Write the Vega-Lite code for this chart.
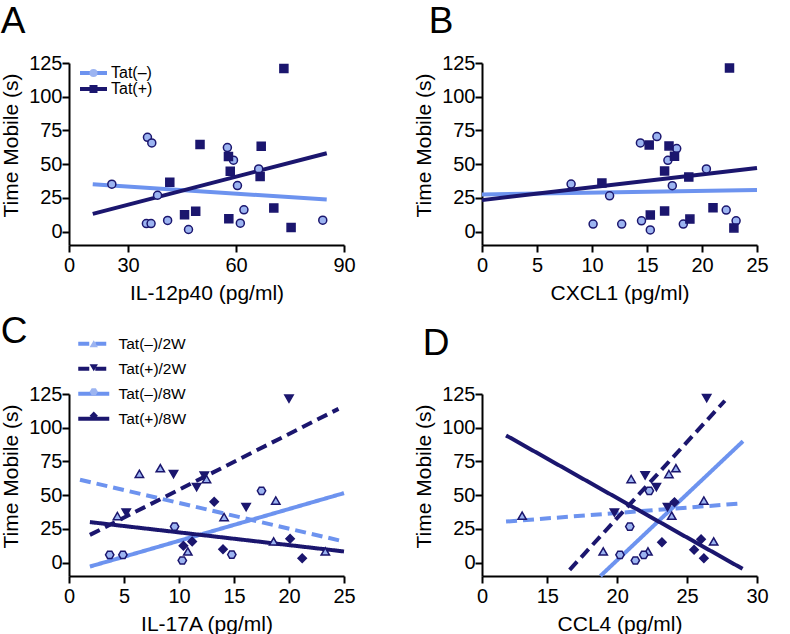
{
  "$schema": "https://vega.github.io/schema/vega-lite/v6.json",
  "background": "white",
  "padding": {"left": 0, "top": 3, "right": 5, "bottom": 2},
  "columns": 2,
  "spacing": {"row": 10, "column": 57},
  "resolve": {
    "scale": {"stroke": "independent", "fill": "independent", "shape": "independent", "strokeDash": "independent"},
    "legend": {"stroke": "independent", "fill": "independent", "shape": "independent", "strokeDash": "independent"}
  },
  "config": {
    "font": "Liberation Sans",
    "view": {"stroke": null},
    "axis": {"domainColor": "black", "domainWidth": 2, "tickColor": "black", "tickWidth": 2, "tickSize": 7, "grid": false, "labelFontSize": 20, "titleFontSize": 21, "titleFontWeight": "normal", "labelColor": "black", "titleColor": "black", "labelFont": "Liberation Sans", "titleFont": "Liberation Sans", "labelFlush": false, "labelOverlap": false},
    "axisY": {"labelPadding": 0, "titlePadding": 7},
    "axisX": {"labelPadding": 3, "titlePadding": 7},
    "legend": {"labelFont": "Liberation Sans", "labelColor": "black"},
    "title": {"font": "Liberation Sans", "fontSize": 37, "fontWeight": "normal", "anchor": "start", "frame": "bounds", "color": "black"}
  },
  "datasets": {
    "A_pts": [
      {"x": 25.5, "y": 35.1, "grp": "Tat(–)"}, {"x": 35.4, "y": 69.9, "grp": "Tat(–)"}, {"x": 36.6, "y": 65.7, "grp": "Tat(–)"},
      {"x": 35.1, "y": 5.9, "grp": "Tat(–)"}, {"x": 36.4, "y": 5.9, "grp": "Tat(–)"}, {"x": 38.2, "y": 26.9, "grp": "Tat(–)"},
      {"x": 41.0, "y": 8.2, "grp": "Tat(–)"}, {"x": 46.8, "y": 1.5, "grp": "Tat(–)"}, {"x": 57.6, "y": 62.3, "grp": "Tat(–)"},
      {"x": 59.3, "y": 52.9, "grp": "Tat(–)"}, {"x": 60.4, "y": 34.1, "grp": "Tat(–)"}, {"x": 62.2, "y": 16.1, "grp": "Tat(–)"},
      {"x": 61.2, "y": 6.2, "grp": "Tat(–)"}, {"x": 66.3, "y": 46.4, "grp": "Tat(–)"}, {"x": 84.1, "y": 8.4, "grp": "Tat(–)"},
      {"x": 73.3, "y": 121.0, "grp": "Tat(+)"}, {"x": 50.0, "y": 64.5, "grp": "Tat(+)"}, {"x": 57.9, "y": 55.6, "grp": "Tat(+)"},
      {"x": 58.4, "y": 44.7, "grp": "Tat(+)"}, {"x": 67.0, "y": 63.2, "grp": "Tat(+)"}, {"x": 66.7, "y": 40.8, "grp": "Tat(+)"},
      {"x": 41.6, "y": 36.6, "grp": "Tat(+)"}, {"x": 45.7, "y": 12.4, "grp": "Tat(+)"}, {"x": 48.8, "y": 15.1, "grp": "Tat(+)"},
      {"x": 58.0, "y": 9.4, "grp": "Tat(+)"}, {"x": 70.5, "y": 17.5, "grp": "Tat(+)"}, {"x": 75.3, "y": 3.0, "grp": "Tat(+)"}
    ],
    "A_lines": [
      {"x": 20.2, "y": 35.1, "ser": "Tat(–)"}, {"x": 85.2, "y": 23.7, "ser": "Tat(–)"},
      {"x": 20.2, "y": 13.1, "ser": "Tat(+)"}, {"x": 85.2, "y": 58.1, "ser": "Tat(+)"}
    ],
    "B_pts": [
      {"x": 8.1, "y": 35.2, "grp": "Tat(–)"}, {"x": 10.1, "y": 5.5, "grp": "Tat(–)"}, {"x": 11.6, "y": 26.5, "grp": "Tat(–)"},
      {"x": 12.7, "y": 5.5, "grp": "Tat(–)"}, {"x": 14.4, "y": 65.7, "grp": "Tat(–)"}, {"x": 14.5, "y": 7.9, "grp": "Tat(–)"},
      {"x": 15.3, "y": 1.2, "grp": "Tat(–)"}, {"x": 15.9, "y": 70.4, "grp": "Tat(–)"}, {"x": 16.9, "y": 52.8, "grp": "Tat(–)"},
      {"x": 17.3, "y": 34.0, "grp": "Tat(–)"}, {"x": 17.7, "y": 61.5, "grp": "Tat(–)"}, {"x": 18.3, "y": 5.5, "grp": "Tat(–)"},
      {"x": 20.4, "y": 46.4, "grp": "Tat(–)"}, {"x": 22.2, "y": 15.9, "grp": "Tat(–)"}, {"x": 23.1, "y": 7.9, "grp": "Tat(–)"},
      {"x": 22.5, "y": 121.3, "grp": "Tat(+)"}, {"x": 15.2, "y": 64.2, "grp": "Tat(+)"}, {"x": 17.0, "y": 63.5, "grp": "Tat(+)"},
      {"x": 17.5, "y": 55.8, "grp": "Tat(+)"}, {"x": 16.6, "y": 44.9, "grp": "Tat(+)"}, {"x": 18.8, "y": 40.4, "grp": "Tat(+)"},
      {"x": 10.9, "y": 36.0, "grp": "Tat(+)"}, {"x": 15.3, "y": 12.2, "grp": "Tat(+)"}, {"x": 16.6, "y": 15.2, "grp": "Tat(+)"},
      {"x": 21.0, "y": 17.6, "grp": "Tat(+)"}, {"x": 18.9, "y": 9.2, "grp": "Tat(+)"}, {"x": 22.9, "y": 2.7, "grp": "Tat(+)"}
    ],
    "B_lines": [
      {"x": 0, "y": 27.5, "ser": "Tat(–)"}, {"x": 25, "y": 30.8, "ser": "Tat(–)"},
      {"x": 0, "y": 23.3, "ser": "Tat(+)"}, {"x": 25, "y": 47.1, "ser": "Tat(+)"}
    ],
    "C_pts": [
      {"x": 4.4, "y": 34.5, "grp": "Tat(–)/2W"}, {"x": 6.4, "y": 65.8, "grp": "Tat(–)/2W"}, {"x": 8.3, "y": 70.0, "grp": "Tat(–)/2W"},
      {"x": 12.5, "y": 61.9, "grp": "Tat(–)/2W"}, {"x": 14.1, "y": 33.7, "grp": "Tat(–)/2W"}, {"x": 10.8, "y": 8.2, "grp": "Tat(–)/2W"},
      {"x": 18.8, "y": 46.0, "grp": "Tat(–)/2W"}, {"x": 18.6, "y": 15.6, "grp": "Tat(–)/2W"}, {"x": 23.3, "y": 8.2, "grp": "Tat(–)/2W"},
      {"x": 20.0, "y": 121.5, "grp": "Tat(+)/2W"}, {"x": 9.5, "y": 65.6, "grp": "Tat(+)/2W"}, {"x": 12.3, "y": 64.4, "grp": "Tat(+)/2W"},
      {"x": 11.6, "y": 56.0, "grp": "Tat(+)/2W"}, {"x": 5.2, "y": 37.1, "grp": "Tat(+)/2W"}, {"x": 16.1, "y": 41.1, "grp": "Tat(+)/2W"},
      {"x": 3.7, "y": 5.7, "grp": "Tat(–)/8W"}, {"x": 4.9, "y": 5.7, "grp": "Tat(–)/8W"}, {"x": 9.6, "y": 26.7, "grp": "Tat(–)/8W"},
      {"x": 10.3, "y": 1.5, "grp": "Tat(–)/8W"}, {"x": 14.8, "y": 5.9, "grp": "Tat(–)/8W"}, {"x": 17.5, "y": 53.2, "grp": "Tat(–)/8W"},
      {"x": 13.2, "y": 45.0, "grp": "Tat(+)/8W"}, {"x": 10.4, "y": 12.4, "grp": "Tat(+)/8W"}, {"x": 11.2, "y": 15.6, "grp": "Tat(+)/8W"},
      {"x": 14.0, "y": 9.9, "grp": "Tat(+)/8W"}, {"x": 20.1, "y": 17.6, "grp": "Tat(+)/8W"}, {"x": 21.2, "y": 3.2, "grp": "Tat(+)/8W"}
    ],
    "C_lines": [
      {"x": 1.0, "y": 61.4, "ser": "Tat(–)/2W"}, {"x": 25, "y": 15.6, "ser": "Tat(–)/2W"},
      {"x": 1.9, "y": 20.5, "ser": "Tat(+)/2W"}, {"x": 24.5, "y": 114.0, "ser": "Tat(+)/2W"},
      {"x": 1.9, "y": -3.0, "ser": "Tat(–)/8W"}, {"x": 25, "y": 51.5, "ser": "Tat(–)/8W"},
      {"x": 1.9, "y": 30.0, "ser": "Tat(+)/8W"}, {"x": 25, "y": 8.2, "ser": "Tat(+)/8W"}
    ],
    "D_pts": [
      {"x": 13.2, "y": 34.7, "grp": "Tat(–)/2W"}, {"x": 19.0, "y": 8.2, "grp": "Tat(–)/2W"}, {"x": 21.0, "y": 61.9, "grp": "Tat(–)/2W"},
      {"x": 22.2, "y": 8.2, "grp": "Tat(–)/2W"}, {"x": 23.7, "y": 65.6, "grp": "Tat(–)/2W"}, {"x": 24.2, "y": 70.0, "grp": "Tat(–)/2W"},
      {"x": 23.9, "y": 34.7, "grp": "Tat(–)/2W"}, {"x": 26.2, "y": 46.0, "grp": "Tat(–)/2W"}, {"x": 26.9, "y": 15.6, "grp": "Tat(–)/2W"},
      {"x": 26.4, "y": 122.0, "grp": "Tat(+)/2W"}, {"x": 19.8, "y": 37.1, "grp": "Tat(+)/2W"}, {"x": 22.0, "y": 64.6, "grp": "Tat(+)/2W"},
      {"x": 22.8, "y": 56.0, "grp": "Tat(+)/2W"}, {"x": 23.6, "y": 41.1, "grp": "Tat(+)/2W"},
      {"x": 20.2, "y": 5.7, "grp": "Tat(–)/8W"}, {"x": 21.3, "y": 1.5, "grp": "Tat(–)/8W"}, {"x": 21.9, "y": 5.7, "grp": "Tat(–)/8W"},
      {"x": 20.9, "y": 26.7, "grp": "Tat(–)/8W"}, {"x": 22.3, "y": 53.2, "grp": "Tat(–)/8W"},
      {"x": 24.1, "y": 44.8, "grp": "Tat(+)/8W"}, {"x": 23.2, "y": 15.1, "grp": "Tat(+)/8W"}, {"x": 25.5, "y": 9.4, "grp": "Tat(+)/8W"},
      {"x": 26.0, "y": 17.3, "grp": "Tat(+)/8W"}, {"x": 26.2, "y": 3.2, "grp": "Tat(+)/8W"}
    ],
    "D_lines": [
      {"x": 12.05, "y": 30.4, "ser": "Tat(–)/2W"}, {"x": 28.6, "y": 43.6, "ser": "Tat(–)/2W"},
      {"x": 16.6, "y": -5.4, "ser": "Tat(+)/2W"}, {"x": 27.7, "y": 120.0, "ser": "Tat(+)/2W"},
      {"x": 18.8, "y": -10.0, "ser": "Tat(–)/8W"}, {"x": 29.0, "y": 90.0, "ser": "Tat(–)/8W"},
      {"x": 12.05, "y": 94.3, "ser": "Tat(+)/8W"}, {"x": 28.97, "y": -4.7, "ser": "Tat(+)/8W"}
    ]
  },
  "concat": [
    {
      "width": 275, "height": 182,
      "title": {"text": "A", "offset": 12},
      "layer": [
        {"mark": {"type": "rule", "strokeDash": [4, 3], "color": "black", "strokeWidth": 1.2}, "encoding": {"y": {"datum": 0, "type": "quantitative", "axis": {"title": "Time Mobile (s)", "values": [0, 25, 50, 75, 100, 125], "labelOverlap": false, "titleY": 82}}}},
        {
          "data": {"name": "A_lines"},
          "mark": {"type": "line", "strokeWidth": 4},
          "encoding": {
            "x": {"field": "x", "type": "quantitative", "scale": {"domain": [13.6, 90], "nice": false, "zero": false}, "axis": {"title": "IL-12p40 (pg/ml)", "values": [13.6, 30, 60, 90], "labelExpr": "datum.value < 20 ? '0' : datum.label", "labelOverlap": false}},
            "y": {"field": "y", "type": "quantitative", "scale": {"domain": [-10, 125.02], "nice": false}, "axis": {"title": "Time Mobile (s)", "values": [0, 25, 50, 75, 100, 125], "labelOverlap": false, "titleY": 82}},
            "stroke": {"field": "ser", "type": "nominal", "scale": {"range": ["#1b166e", "#6d93ef"]},
              "legend": {"title": null, "orient": "none", "legendX": 16.5, "legendY": 2, "values": ["Tat(–)", "Tat(+)"], "symbolType": "M-2.7,0H2.7", "symbolSize": 100, "symbolStrokeWidth": 4, "labelFontSize": 16, "labelOffset": 9.5, "rowPadding": 0, "zindex": 1}}
          }
        },
        {
          "data": {"name": "A_pts"},
          "mark": {"type": "point", "filled": true, "size": 64, "stroke": "#1b166e", "strokeWidth": 1.5, "opacity": 1},
          "encoding": {
            "x": {"field": "x", "type": "quantitative", "axis": {"title": "IL-12p40 (pg/ml)", "values": [13.6, 30, 60, 90], "labelExpr": "datum.value < 20 ? '0' : datum.label", "labelOverlap": false}},
            "y": {"field": "y", "type": "quantitative", "axis": {"title": "Time Mobile (s)", "values": [0, 25, 50, 75, 100, 125], "labelOverlap": false, "titleY": 82}},
            "shape": {"field": "grp", "type": "nominal", "scale": {"range": ["square", "circle"]},
              "legend": {"title": null, "orient": "none", "legendX": 16.5, "legendY": 2, "values": ["Tat(–)", "Tat(+)"], "symbolSize": 64, "symbolStrokeWidth": 1.5, "symbolStrokeColor": "#1b166e", "labelFontSize": 16, "labelExpr": "''", "rowPadding": 0, "zindex": 2}},
            "fill": {"field": "grp", "type": "nominal", "scale": {"range": ["#1b166e", "#9cb4f1"]},
              "legend": {"title": null, "orient": "none", "legendX": 16.5, "legendY": 2, "values": ["Tat(–)", "Tat(+)"], "symbolSize": 64, "symbolStrokeWidth": 1.5, "symbolStrokeColor": "#1b166e", "labelFontSize": 16, "labelExpr": "''", "rowPadding": 0, "zindex": 2}}
          }
        },
        {"mark": {"type": "point", "shape": "M-0.45,-0.4H0.45V0.4H-0.45Z", "size": 49, "filled": true, "color": "white", "opacity": 1}, "encoding": {
          "x": {"datum": 18.2, "type": "quantitative", "axis": {"title": "IL-12p40 (pg/ml)", "values": [13.6, 30, 60, 90], "labelExpr": "datum.value < 20 ? '0' : datum.label", "labelOverlap": false}},
          "y": {"datum": -10, "type": "quantitative", "axis": {"title": "Time Mobile (s)", "values": [0, 25, 50, 75, 100, 125], "labelOverlap": false, "titleY": 82}}}},
        {"mark": {"type": "point", "shape": "M-1.8,0.7L-0.6,-0.7M0.6,0.7L1.8,-0.7", "size": 16, "filled": false, "stroke": "black", "strokeWidth": 1.5, "opacity": 1}, "encoding": {
          "x": {"datum": 18.2, "type": "quantitative", "axis": {"title": "IL-12p40 (pg/ml)", "values": [13.6, 30, 60, 90], "labelExpr": "datum.value < 20 ? '0' : datum.label", "labelOverlap": false}},
          "y": {"datum": -10, "type": "quantitative", "axis": {"title": "Time Mobile (s)", "values": [0, 25, 50, 75, 100, 125], "labelOverlap": false, "titleY": 82}}}}
      ]
    },
    {
      "width": 275, "height": 182,
      "title": {"text": "B", "offset": 12, "dx": 15},
      "layer": [
        {"mark": {"type": "rule", "strokeDash": [4, 3], "color": "black", "strokeWidth": 1.2}, "encoding": {"y": {"datum": 0, "type": "quantitative", "axis": {"title": "Time Mobile (s)", "values": [0, 25, 50, 75, 100, 125], "labelOverlap": false, "titleY": 82}}}},
        {
          "data": {"name": "B_lines"},
          "mark": {"type": "line", "strokeWidth": 4},
          "encoding": {
            "x": {"field": "x", "type": "quantitative", "scale": {"domain": [0, 25], "nice": false}, "axis": {"title": "CXCL1 (pg/ml)", "values": [0, 5, 10, 15, 20, 25]}},
            "y": {"field": "y", "type": "quantitative", "scale": {"domain": [-10, 125.02], "nice": false}, "axis": {"title": "Time Mobile (s)", "values": [0, 25, 50, 75, 100, 125], "labelOverlap": false, "titleY": 82}},
            "stroke": {"field": "ser", "type": "nominal", "scale": {"range": ["#1b166e", "#6d93ef"]}, "legend": null}
          }
        },
        {
          "data": {"name": "B_pts"},
          "mark": {"type": "point", "filled": true, "size": 64, "stroke": "#1b166e", "strokeWidth": 1.5, "opacity": 1},
          "encoding": {
            "x": {"field": "x", "type": "quantitative"},
            "y": {"field": "y", "type": "quantitative", "axis": {"title": "Time Mobile (s)", "values": [0, 25, 50, 75, 100, 125], "labelOverlap": false, "titleY": 82}},
            "shape": {"field": "grp", "type": "nominal", "scale": {"range": ["square", "circle"]}, "legend": null},
            "fill": {"field": "grp", "type": "nominal", "scale": {"range": ["#1b166e", "#9cb4f1"]}, "legend": null}
          }
        }
      ]
    },
    {
      "width": 275, "height": 182,
      "title": {"text": "C", "offset": -15},
      "layer": [
        {"mark": {"type": "rule", "strokeDash": [4, 3], "color": "black", "strokeWidth": 1.2}, "encoding": {"y": {"datum": 0, "type": "quantitative", "axis": {"title": "Time Mobile (s)", "values": [0, 25, 50, 75, 100, 125], "labelOverlap": false, "titleY": 82}}}},
        {
          "data": {"name": "C_lines"},
          "mark": {"type": "line", "strokeWidth": 4},
          "encoding": {
            "x": {"field": "x", "type": "quantitative", "scale": {"domain": [0, 25], "nice": false}, "axis": {"title": "IL-17A (pg/ml)", "values": [0, 5, 10, 15, 20, 25]}},
            "y": {"field": "y", "type": "quantitative", "scale": {"domain": [-10, 125.02], "nice": false}, "axis": {"title": "Time Mobile (s)", "values": [0, 25, 50, 75, 100, 125], "labelOverlap": false, "titleY": 82}},
            "stroke": {"field": "ser", "type": "nominal", "scale": {"range": ["#1b166e", "#1b166e", "#6d93ef", "#6d93ef"]},
              "legend": {"title": null, "orient": "none", "legendX": 17, "legendY": -58, "values": ["Tat(–)/2W", "Tat(+)/2W", "Tat(–)/8W", "Tat(+)/8W"], "symbolType": "M-3.1,0H3.1", "symbolSize": 100, "symbolStrokeWidth": 4, "labelFontSize": 15.5, "labelOffset": 17, "rowPadding": 7, "zindex": 1}},
            "strokeDash": {"field": "ser", "type": "nominal", "scale": {"range": [[11, 6], [1, 0], [11, 6], [1, 0]]},
              "legend": {"title": null, "orient": "none", "legendX": 17, "legendY": -58, "values": ["Tat(–)/2W", "Tat(+)/2W", "Tat(–)/8W", "Tat(+)/8W"], "symbolType": "M-3.1,0H3.1", "symbolSize": 100, "symbolStrokeWidth": 4, "labelFontSize": 15.5, "labelOffset": 17, "rowPadding": 7, "zindex": 1}}
          }
        },
        {
          "data": {"name": "C_pts"},
          "mark": {"type": "point", "filled": true, "size": 70, "stroke": "#1b166e", "strokeWidth": 1.5, "opacity": 1},
          "encoding": {
            "x": {"field": "x", "type": "quantitative"},
            "y": {"field": "y", "type": "quantitative", "axis": {"title": "Time Mobile (s)", "values": [0, 25, 50, 75, 100, 125], "labelOverlap": false, "titleY": 82}},
            "shape": {"field": "grp", "type": "nominal", "scale": {"range": ["triangle-down", "diamond", "triangle-up", "M-1,0L-0.5,-0.866L0.5,-0.866L1,0L0.5,0.866L-0.5,0.866Z"]},
              "legend": {"title": null, "orient": "none", "legendX": 17, "legendY": -58, "values": ["Tat(–)/2W", "Tat(+)/2W", "Tat(–)/8W", "Tat(+)/8W"], "symbolSize": 70, "symbolStrokeWidth": 1.5, "symbolStrokeColor": "#1b166e", "labelFontSize": 15.5, "labelExpr": "''", "rowPadding": 7, "zindex": 2}},
            "fill": {"field": "grp", "type": "nominal", "scale": {"range": ["#1b166e", "#1b166e", "#9cb4f1", "#9cb4f1"]},
              "legend": {"title": null, "orient": "none", "legendX": 17, "legendY": -58, "values": ["Tat(–)/2W", "Tat(+)/2W", "Tat(–)/8W", "Tat(+)/8W"], "symbolSize": 70, "symbolStrokeWidth": 1.5, "symbolStrokeColor": "#1b166e", "labelFontSize": 15.5, "labelExpr": "''", "rowPadding": 7, "zindex": 2}}
          }
        }
      ]
    },
    {
      "width": 275, "height": 182,
      "title": {"text": "D", "offset": 21, "dx": 9},
      "layer": [
        {"mark": {"type": "rule", "strokeDash": [4, 3], "color": "black", "strokeWidth": 1.2}, "encoding": {"y": {"datum": 0, "type": "quantitative", "axis": {"title": "Time Mobile (s)", "values": [0, 25, 50, 75, 100, 125], "labelOverlap": false, "titleY": 82}}}},
        {
          "data": {"name": "D_lines"},
          "mark": {"type": "line", "strokeWidth": 4},
          "encoding": {
            "x": {"field": "x", "type": "quantitative", "scale": {"domain": [10.33, 30], "nice": false, "zero": false}, "axis": {"title": "CCL4 (pg/ml)", "values": [10.33, 15, 20, 25, 30], "labelExpr": "datum.value < 12 ? '0' : datum.label", "labelOverlap": false}},
            "y": {"field": "y", "type": "quantitative", "scale": {"domain": [-10, 125.02], "nice": false}, "axis": {"title": "Time Mobile (s)", "values": [0, 25, 50, 75, 100, 125], "labelOverlap": false, "titleY": 82}},
            "stroke": {"field": "ser", "type": "nominal", "scale": {"range": ["#1b166e", "#1b166e", "#6d93ef", "#6d93ef"]}, "legend": null},
            "strokeDash": {"field": "ser", "type": "nominal", "scale": {"range": [[11, 6], [1, 0], [11, 6], [1, 0]]}, "legend": null}
          }
        },
        {
          "data": {"name": "D_pts"},
          "mark": {"type": "point", "filled": true, "size": 70, "stroke": "#1b166e", "strokeWidth": 1.5, "opacity": 1},
          "encoding": {
            "x": {"field": "x", "type": "quantitative", "axis": {"title": "CCL4 (pg/ml)", "values": [10.33, 15, 20, 25, 30], "labelExpr": "datum.value < 12 ? '0' : datum.label", "labelOverlap": false}},
            "y": {"field": "y", "type": "quantitative", "axis": {"title": "Time Mobile (s)", "values": [0, 25, 50, 75, 100, 125], "labelOverlap": false, "titleY": 82}},
            "shape": {"field": "grp", "type": "nominal", "scale": {"range": ["triangle-down", "diamond", "triangle-up", "M-1,0L-0.5,-0.866L0.5,-0.866L1,0L0.5,0.866L-0.5,0.866Z"]}, "legend": null},
            "fill": {"field": "grp", "type": "nominal", "scale": {"range": ["#1b166e", "#1b166e", "#9cb4f1", "#9cb4f1"]}, "legend": null}
          }
        },
        {"mark": {"type": "point", "shape": "M-0.45,-0.4H0.45V0.4H-0.45Z", "size": 49, "filled": true, "color": "white", "opacity": 1}, "encoding": {
          "x": {"datum": 11.67, "type": "quantitative", "axis": {"title": "CCL4 (pg/ml)", "values": [10.33, 15, 20, 25, 30], "labelExpr": "datum.value < 12 ? '0' : datum.label", "labelOverlap": false}},
          "y": {"datum": -10, "type": "quantitative", "axis": {"title": "Time Mobile (s)", "values": [0, 25, 50, 75, 100, 125], "labelOverlap": false, "titleY": 82}}}},
        {"mark": {"type": "point", "shape": "M-1.8,0.7L-0.6,-0.7M0.6,0.7L1.8,-0.7", "size": 16, "filled": false, "stroke": "black", "strokeWidth": 1.5, "opacity": 1}, "encoding": {
          "x": {"datum": 11.67, "type": "quantitative", "axis": {"title": "CCL4 (pg/ml)", "values": [10.33, 15, 20, 25, 30], "labelExpr": "datum.value < 12 ? '0' : datum.label", "labelOverlap": false}},
          "y": {"datum": -10, "type": "quantitative", "axis": {"title": "Time Mobile (s)", "values": [0, 25, 50, 75, 100, 125], "labelOverlap": false, "titleY": 82}}}}
      ]
    }
  ]
}
